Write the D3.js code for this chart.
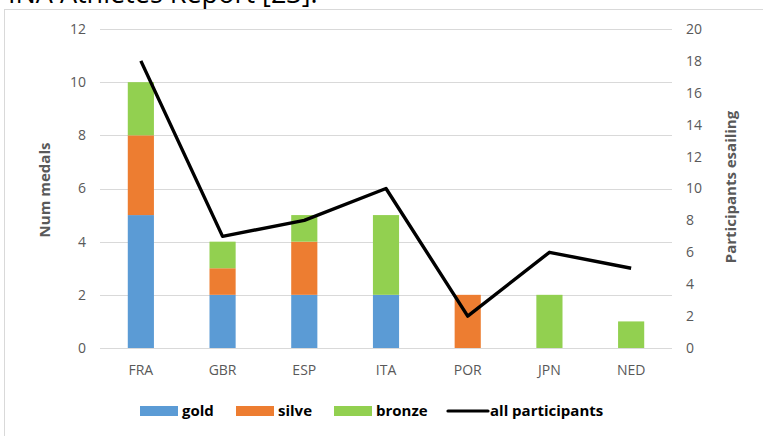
<!DOCTYPE html>
<html>
<head>
<meta charset="utf-8">
<script src="https://cdn.jsdelivr.net/npm/d3@7"></script>
<style>
  body { margin: 0; background: #fff; }
  svg { display: block; font-family: "Open Sans", "Liberation Sans", sans-serif; }
</style>
</head>
<body>
<svg id="chart" width="763" height="436"></svg>
<script>
// chart data
const countries = ["FRA", "GBR", "ESP", "ITA", "POR", "JPN", "NED"];
const gold = [5, 2, 2, 2, 0, 0, 0];
const silver = [3, 1, 2, 0, 2, 0, 0];
const bronze = [2, 1, 1, 3, 0, 2, 1];
const participants = [18, 7, 8, 10, 2, 6, 5];
const leftTicks = [0, 2, 4, 6, 8, 10, 12];
const rightTicks = [0, 2, 4, 6, 8, 10, 12, 14, 16, 18, 20];
const seriesNames = ["gold", "silve", "bronze"];
const seriesColors = ["#5b9bd5", "#ed7d31", "#92d050"];

const svg = d3.select("#chart");
const plot = { left: 100, right: 672, top: 29, bottom: 348 };

// caption line of the page above, mostly cut off by the top edge
svg.append("text")
  .attr("x", -6).attr("y", 3)
  .attr("font-size", 27)
  .attr("fill", "#000")
  .text("FINA Athletes Report [23].");

// chart frame
svg.append("rect")
  .attr("x", 4.5).attr("y", 9.5)
  .attr("width", 770).attr("height", 440)
  .attr("fill", "#fff")
  .attr("stroke", "#d9d9d9");

const x = d3.scaleBand().domain(countries).range([plot.left, plot.right]).paddingInner(0.68).paddingOuter(0.34);
const yL = d3.scaleLinear().domain([0, 12]).range([plot.bottom, plot.top]);
const yR = d3.scaleLinear().domain([0, 20]).range([plot.bottom, plot.top]);

// gridlines
svg.append("g").selectAll("line").data(leftTicks).join("line")
  .attr("x1", plot.left).attr("x2", plot.right)
  .attr("y1", d => Math.round(yL(d)) + 0.5).attr("y2", d => Math.round(yL(d)) + 0.5)
  .attr("stroke", "#d9d9d9").attr("stroke-width", 1);

// stacked bars
const rows = countries.map((c, i) => ({ country: c, gold: gold[i], silve: silver[i], bronze: bronze[i] }));
const stacked = d3.stack().keys(seriesNames)(rows);
svg.append("g").selectAll("g").data(stacked).join("g")
  .attr("fill", (d, i) => seriesColors[i])
  .selectAll("rect").data(d => d).join("rect")
  .attr("x", d => x(d.data.country))
  .attr("width", x.bandwidth())
  .attr("y", d => yL(d[1]))
  .attr("height", d => yL(d[0]) - yL(d[1]));

// participants line
const line = d3.line()
  .x((d, i) => x(countries[i]) + x.bandwidth() / 2)
  .y(d => yR(d));
svg.append("path")
  .datum(participants)
  .attr("d", line)
  .attr("fill", "none")
  .attr("stroke", "#000")
  .attr("stroke-width", 3.4)
  .attr("stroke-linejoin", "round");

// axes
const axisL = svg.append("g").attr("transform", `translate(${plot.left - 14},0)`)
  .call(d3.axisLeft(yL).tickValues(leftTicks).tickSize(0).tickPadding(0));
const axisR = svg.append("g").attr("transform", `translate(${plot.right + 14},0)`)
  .call(d3.axisRight(yR).tickValues(rightTicks).tickSize(0).tickPadding(0));
const axisB = svg.append("g").attr("transform", `translate(0,${plot.bottom + 14})`)
  .call(d3.axisBottom(x).tickSize(0).tickPadding(0));
[axisL, axisR, axisB].forEach(a => {
  a.select(".domain").remove();
  a.selectAll("text").attr("font-size", 14).attr("fill", "#595959")
    .attr("font-family", "Open Sans, Liberation Sans, sans-serif");
});
axisB.selectAll("text").attr("dy", "0.9em");

// axis titles
svg.append("text")
  .attr("transform", "translate(50,190) rotate(-90)")
  .attr("text-anchor", "middle")
  .attr("font-size", 15).attr("font-weight", "bold").attr("fill", "#595959")
  .text("Num medals");
svg.append("text")
  .attr("transform", "translate(736,187) rotate(-90)")
  .attr("text-anchor", "middle")
  .attr("font-size", 15).attr("font-weight", "bold").attr("fill", "#595959")
  .text("Participants esailing");

// legend
const legendItems = [
  { label: "gold", color: seriesColors[0], x: 140, type: "rect" },
  { label: "silve", color: seriesColors[1], x: 236, type: "rect" },
  { label: "bronze", color: seriesColors[2], x: 334, type: "rect" },
  { label: "all participants", color: "#000", x: 448, type: "line" }
];
const legend = svg.append("g").attr("transform", "translate(0,411)");
legendItems.forEach(item => {
  const g = legend.append("g").attr("transform", `translate(${item.x},0)`);
  if (item.type === "rect") {
    g.append("rect").attr("x", 0).attr("y", -5).attr("width", 38).attr("height", 10).attr("fill", item.color);
  } else {
    g.append("line").attr("x1", 0).attr("x2", 40).attr("y1", 0).attr("y2", 0)
      .attr("stroke", item.color).attr("stroke-width", 3.2).attr("stroke-linecap", "round");
  }
  g.append("text")
    .attr("x", 42)
    .attr("dy", "0.35em")
    .attr("font-size", 15).attr("font-weight", "bold").attr("fill", "#000")
    .text(item.label);
});
</script>
</body>
</html>
